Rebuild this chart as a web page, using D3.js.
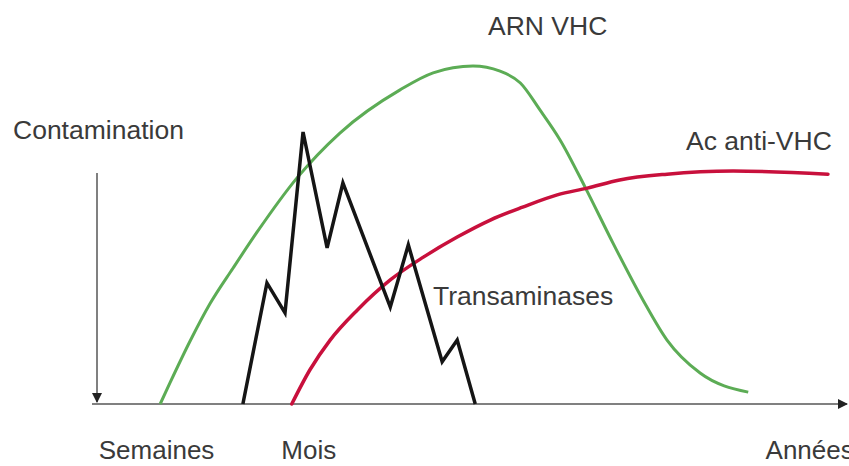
<!DOCTYPE html>
<html>
<head>
<meta charset="utf-8">
<script src="https://cdn.jsdelivr.net/npm/d3@7"></script>
<style>
  body { margin: 0; background: #fff; }
  text { font-family: "Liberation Sans", Arial, sans-serif; fill: #3a3a3a; }
</style>
</head>
<body>
<div id="chart"></div>
<script>
// schematic time units (0-100) and relative level (0-100)
var arnX = [8.4, 9.7, 12.4, 15.0, 18.1, 21.3, 26.6, 32.3, 40.3, 44.7, 50.0, 53.6, 56.3, 58.9, 61.6, 64.9, 68.6, 72.6, 75.8, 80.2, 86.6];
var arnY = [0, 6.2, 18.6, 29.4, 40.0, 50.6, 66.5, 79.7, 92.4, 97.4, 99.4, 97.9, 94.4, 86.5, 77.6, 63.8, 47.4, 30.6, 18.8, 9.1, 3.5];

var acX = [25.9, 28.3, 31.0, 34.6, 39.0, 43.4, 47.9, 52.3, 56.6, 61.2, 65.2, 69.5, 75.8, 84.6, 97.2];
var acY = [0, 10.0, 18.8, 27.6, 36.5, 43.2, 49.1, 54.1, 57.9, 61.5, 63.5, 65.9, 67.6, 68.5, 67.6];

var transX = [19.4, 22.6, 25.0, 27.4, 30.6, 32.7, 39.0, 41.4, 45.9, 47.9, 50.3];
var transY = [0, 35.6, 26.8, 80.0, 45.9, 65.0, 28.5, 46.8, 12.4, 18.8, 0];

var timeTicks = [7.85, 28.1, 94.7];
var timeLabels = ["Semaines", "Mois", "Années"];

var width = 849,
    height = 466;

var svg = d3.select("#chart")
    .append("svg")
    .attr("width", width)
    .attr("height", height);

var x = d3.scaleLinear().domain([0, 100]).range([97, 849]);
var y = d3.scaleLinear().domain([0, 100]).range([404, 64]);

var defs = svg.append("defs");
defs.append("marker")
    .attr("id", "arrow")
    .attr("viewBox", "0 0 10 10")
    .attr("refX", 9).attr("refY", 5)
    .attr("markerWidth", 5).attr("markerHeight", 5)
    .attr("markerUnits", "strokeWidth")
    .attr("orient", "auto")
  .append("path")
    .attr("d", "M0,0L10,5L0,10z")
    .attr("fill", "#222");

// horizontal time axis
svg.append("line")
    .attr("x1", 92).attr("x2", 847)
    .attr("y1", y(0)).attr("y2", y(0))
    .attr("stroke", "#808080")
    .attr("stroke-width", 2)
    .attr("marker-end", "url(#arrow)");

// contamination arrow
svg.append("line")
    .attr("x1", x(0)).attr("x2", x(0))
    .attr("y1", 173).attr("y2", y(0) - 2)
    .attr("stroke", "#808080")
    .attr("stroke-width", 2)
    .attr("marker-end", "url(#arrow)");

var xAxis = d3.axisBottom(x)
    .tickValues(timeTicks)
    .tickSize(0)
    .tickPadding(0)
    .tickFormat(function(d, i) { return timeLabels[i]; });

svg.append("g")
    .attr("transform", "translate(0," + 441 + ")")
    .call(xAxis)
    .call(function(g) { g.select(".domain").remove(); })
    .selectAll("text")
    .attr("font-size", 26)
    .attr("dy", "0.71em")
    .style("fill", "#3a3a3a")
    .style("font-family", "Liberation Sans, Arial, sans-serif");

function pts(xs, ys) {
  return xs.map(function(d, i) { return [d, ys[i]]; });
}

var smooth = d3.line()
    .x(function(d) { return x(d[0]); })
    .y(function(d) { return y(d[1]); })
    .curve(d3.curveMonotoneX);

var straight = d3.line()
    .x(function(d) { return x(d[0]); })
    .y(function(d) { return y(d[1]); });

svg.append("path")
    .attr("d", smooth(pts(arnX, arnY)))
    .attr("fill", "none")
    .attr("stroke", "#5cac55")
    .attr("stroke-width", 3);

svg.append("path")
    .attr("d", smooth(pts(acX, acY)))
    .attr("fill", "none")
    .attr("stroke", "#c8103c")
    .attr("stroke-width", 3.5)
    .attr("stroke-linecap", "round");

svg.append("path")
    .attr("d", straight(pts(transX, transY)))
    .attr("fill", "none")
    .attr("stroke", "#151515")
    .attr("stroke-width", 3.5)
    .attr("stroke-linejoin", "miter");

var labels = [
  { t: "Contamination", x: 13, y: 139 },
  { t: "ARN VHC", x: 488, y: 35 },
  { t: "Ac anti-VHC", x: 686, y: 150 },
  { t: "Transaminases", x: 433, y: 305 }
];

svg.selectAll(".lbl")
    .data(labels)
    .enter().append("text")
    .attr("class", "lbl")
    .attr("x", function(d) { return d.x; })
    .attr("y", function(d) { return d.y; })
    .attr("font-size", 26.5)
    .text(function(d) { return d.t; });
</script>
</body>
</html>
